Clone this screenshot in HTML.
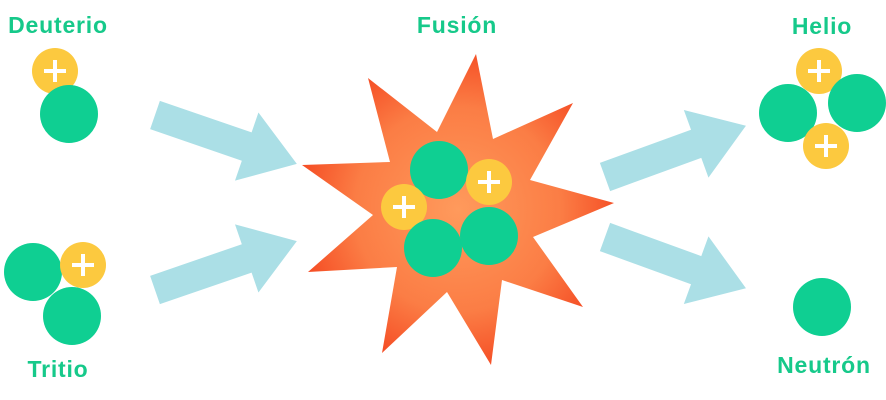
<!DOCTYPE html>
<html><head><meta charset="utf-8"><style>
html,body{margin:0;padding:0;background:#fff;width:886px;height:400px;overflow:hidden}
text{font-family:"Liberation Sans",sans-serif;font-weight:bold;fill:#16c98a;letter-spacing:0.8px}
</style></head><body>
<svg width="886" height="400" viewBox="0 0 886 400" xmlns="http://www.w3.org/2000/svg">
<defs>
<radialGradient id="sg" cx="0.5" cy="0.5" r="0.55">
<stop offset="0" stop-color="#ff9a5c"/><stop offset="0.6" stop-color="#fb7d45"/><stop offset="1" stop-color="#f4451f"/>
</radialGradient>
<g id="ar"><polygon points="0,-15 97,-15 97,-36 150,0 97,36 97,15 0,15" fill="#abdfe6"/></g>
<g id="p"><circle r="23" fill="#fcc93f"/><path d="M-11,0H11M0,-11V11" stroke="#fff" stroke-width="4"/></g>
<g id="n"><circle r="29" fill="#0fcf92"/></g>
</defs>
<text x="58" y="33" font-size="23" text-anchor="middle">Deuterio</text>
<text x="58" y="377" font-size="23" text-anchor="middle">Tritio</text>
<text x="457" y="33" font-size="23" text-anchor="middle">Fusión</text>
<text x="822" y="34" font-size="23" text-anchor="middle">Helio</text>
<text x="824" y="373" font-size="23" text-anchor="middle">Neutrón</text>

<use href="#p" x="55" y="71"/><use href="#n" x="69" y="114"/>
<use href="#n" x="33" y="272"/><use href="#p" x="83" y="265"/><use href="#n" x="72" y="316"/>

<use href="#ar" transform="translate(155,115) rotate(19)"/>
<use href="#ar" transform="translate(155,290) rotate(-19)"/>
<use href="#ar" transform="translate(605,177) rotate(-20)"/>
<use href="#ar" transform="translate(605,237) rotate(20)"/>

<polygon fill="url(#sg)" points="368,78 437,132 476,54 493,139 573,103 530,180 614,203 533,237 583,307 502,280 491,365 447,292 382,353 397,267 308,272 373,215 302,165 390,162"/>
<use href="#n" x="439" y="170"/><use href="#p" x="489" y="182"/><use href="#p" x="404" y="207"/>
<use href="#n" x="433" y="248"/><use href="#n" x="489" y="236"/>

<use href="#p" x="819" y="71"/><use href="#n" x="788" y="113"/><use href="#n" x="857" y="103"/><use href="#p" x="826" y="146"/>
<use href="#n" x="822" y="307"/>
</svg>
</body></html>
